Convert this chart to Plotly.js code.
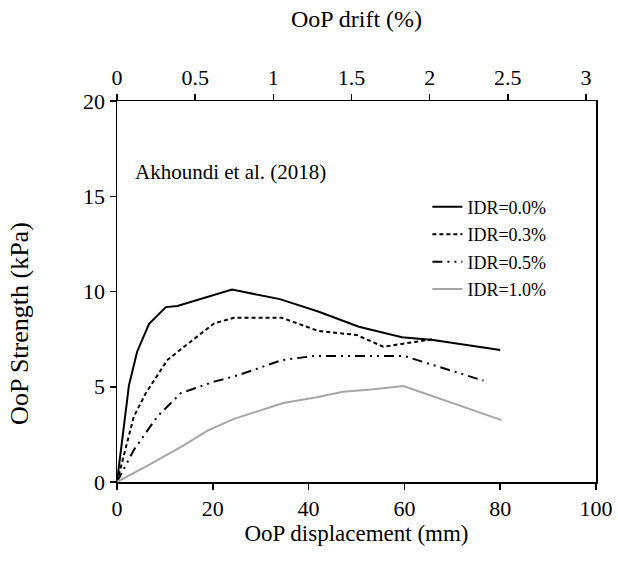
<!DOCTYPE html>
<html>
<head>
<meta charset="utf-8">
<script src="https://cdn.plot.ly/plotly-3.0.1.min.js"></script>
<style>html,body{margin:0;padding:0;background:#fff;}#chart{width:618px;height:561px;}</style>
</head>
<body>
<div id="chart"></div>
<script>
// Data
const seriesNames = ["IDR=0.0%", "IDR=0.3%", "IDR=0.5%", "IDR=1.0%"];

const idr00_x = [0, 2.5, 4.2, 6.7, 10.2, 12.6, 24.0, 34.0, 42.0, 50.5, 59.5, 66.0, 80.0];
const idr00_y = [0, 5.08, 6.84, 8.3, 9.18, 9.24, 10.1, 9.6, 8.95, 8.15, 7.6, 7.45, 6.93];

const idr03_x = [0, 3.5, 6.0, 10.5, 14.0, 20.3, 24.4, 34.4, 42.0, 50.0, 55.6, 66.0];
const idr03_y = [0, 3.43, 4.66, 6.4, 7.1, 8.33, 8.62, 8.62, 7.93, 7.72, 7.1, 7.5];

const idr05_x = [0, 3.5, 8.4, 13.3, 20.3, 25.5, 34.4, 41.0, 60.0, 76.5];
const idr05_y = [0, 1.68, 3.43, 4.66, 5.27, 5.62, 6.4, 6.61, 6.61, 5.32];

const idr10_x = [0, 6.3, 14.0, 18.9, 24.3, 34.7, 41.7, 47.2, 53.0, 59.8, 80.3];
const idr10_y = [0, 0.85, 1.94, 2.7, 3.3, 4.15, 4.45, 4.74, 4.85, 5.04, 3.25];

const xTickVals = [0, 20, 40, 60, 80, 100];
const yTickVals = [0, 5, 10, 15, 20];
const driftTickVals = [0, 0.5, 1, 1.5, 2, 2.5, 3];
const driftRange = [0, 3.064];

const serif = "'Liberation Serif', 'Times New Roman', 'DejaVu Serif', serif";

const styles = [
  {color: "#000000", dash: "solid", width: 2},
  {color: "#000000", dash: "4px,3px", width: 2},
  {color: "#000000", dash: "10px,5px,2px,5px,2px,5px", width: 2},
  {color: "#a6a6a6", dash: "solid", width: 2}
];
const xs = [idr00_x, idr03_x, idr05_x, idr10_x];
const ys = [idr00_y, idr03_y, idr05_y, idr10_y];

const traces = seriesNames.map((n, i) => ({
  x: xs[i], y: ys[i], name: n, type: "scatter", mode: "lines",
  legendgroup: "g" + i,
  line: {color: styles[i].color, dash: styles[i].dash, width: styles[i].width},
  xaxis: "x", yaxis: "y", hoverinfo: "skip"
}));
// empty helper trace so the top (drift) axis is drawn
traces.push({x: [], y: [], type: "scatter", mode: "lines", xaxis: "x2", yaxis: "y",
  showlegend: false, hoverinfo: "skip"});

const layout = {
  width: 618, height: 561,
  margin: {l: 117, r: 22, t: 101, b: 79},
  paper_bgcolor: "#fff", plot_bgcolor: "#fff",
  font: {family: serif, size: 22, color: "#000"},
  showlegend: true,
  legend: {
    x: 0.648, y: 0.77, xanchor: "left", yanchor: "top",
    bgcolor: "rgba(0,0,0,0)", borderwidth: 0,
    font: {family: serif, size: 18, color: "#000"},
    tracegroupgap: 1, itemwidth: 30
  },
  xaxis: {
    range: [0, 100], tickvals: xTickVals, ticktext: xTickVals.map(String),
    showgrid: false, zeroline: false,
    showline: true, linecolor: "#000", linewidth: 1.5,
    ticks: "outside", ticklen: 6, tickwidth: 1.5, tickcolor: "#000",
    tickfont: {family: serif, size: 22},
    title: {text: "OoP displacement (mm)", font: {family: serif, size: 23}, standoff: 0},
    fixedrange: true
  },
  xaxis2: {
    overlaying: "x", side: "top", anchor: "y",
    range: driftRange, tickvals: driftTickVals, ticktext: driftTickVals.map(String),
    showgrid: false, zeroline: false,
    showline: true, linecolor: "#000", linewidth: 1.5,
    ticks: "outside", ticklen: 6, tickwidth: 1.5, tickcolor: "#000",
    tickfont: {family: serif, size: 22},
    title: {text: "OoP drift (%)", font: {family: serif, size: 24}, standoff: 30},
    fixedrange: true
  },
  yaxis: {
    range: [0, 20], tickvals: yTickVals, ticktext: yTickVals.map(String),
    showgrid: false, zeroline: false,
    showline: true, linecolor: "#000", linewidth: 1.5, mirror: true,
    ticks: "outside", ticklen: 6, tickwidth: 1.5, tickcolor: "#000",
    tickfont: {family: serif, size: 22},
    fixedrange: true
  },
  annotations: [
    {text: "Akhoundi et al. (2018)", xref: "paper", yref: "paper", x: 0.034, y: 0.814,
     xanchor: "left", yanchor: "middle", showarrow: false, font: {family: serif, size: 21}},
    {text: "OoP Strength (kPa)", xref: "paper", yref: "paper", x: -0.2025, y: 0.415,
     xanchor: "center", yanchor: "middle", textangle: -90, showarrow: false,
     font: {family: serif, size: 26}}
  ]
};

Plotly.newPlot("chart", traces, layout, {displayModeBar: false, staticPlot: true});
</script>
</body>
</html>
